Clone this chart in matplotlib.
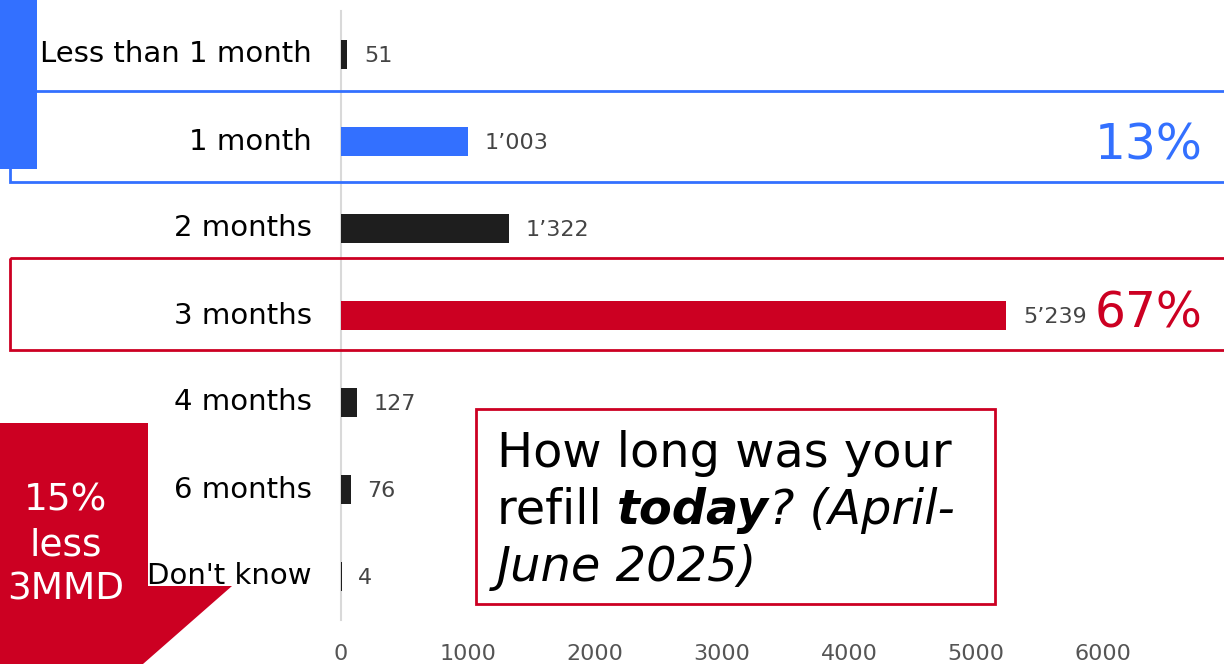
import matplotlib
matplotlib.use("Agg")
import matplotlib.pyplot as plt
from matplotlib.patches import Rectangle, Polygon

# --- data ---
categories = ["Less than 1 month", "1 month", "2 months", "3 months",
              "4 months", "6 months", "Don't know"]
counts = [51, 1003, 1322, 5239, 127, 76, 4]
highlight = {"1 month": "blue", "3 months": "red"}
x_ticks = [0, 1000, 2000, 3000, 4000, 5000, 6000]

DARK = "#1e1e1e"
BLUE = "#3370ff"
RED = "#cc0022"
GREY_TXT = "#444444"
W, H = 1224, 664

plt.rcParams["font.family"] = ["DejaVu Sans"]

fig = plt.figure(figsize=(W / 100, H / 100), dpi=100)

# main bar axes, placed in pixel terms
ax = fig.add_axes([341 / W, (H - 620) / H, (W - 341) / W, 609 / H])
colors = [BLUE if highlight.get(c) == "blue" else RED if highlight.get(c) == "red" else DARK
          for c in categories]
ypos = list(range(len(categories)))
ax.barh(ypos, counts, height=0.34, color=colors, zorder=3)
ax.set_ylim(len(categories) - 0.5, -0.5)
ax.set_xlim(0, (W - 341) / 0.127)
ax.set_yticks(ypos, categories, fontsize=21, color="black", va="center")
ax.set_xticks(x_ticks, [str(t) for t in x_ticks], fontsize=16, color="#555555")
ax.tick_params(axis="y", length=0, pad=21)
ax.tick_params(axis="x", length=0, pad=17)
for s in ("top", "right", "bottom"):
    ax.spines[s].set_visible(False)
ax.spines["left"].set_color("#d9d9d9")
ax.spines["left"].set_linewidth(1.5)

for y, v in zip(ypos, counts):
    lbl = f"{v:,}".replace(",", "\u2019")
    ax.annotate(lbl, xy=(v, y), xytext=(12, -1), textcoords="offset points",
                ha="left", va="center", fontsize=16, color=GREY_TXT)

# overlay axes in pixel coordinates for the annotation shapes
ov = fig.add_axes([0, 0, 1, 1])
ov.set_xlim(0, W)
ov.set_ylim(H, 0)
ov.axis("off")

total = sum(counts)
i1 = categories.index("1 month")
i3 = categories.index("3 months")
pct1 = f"{round(100 * counts[i1] / total)}%"
pct3 = f"{round(100 * counts[i3] / total)}%"

# blue group outline + solid tab
ov.add_patch(Rectangle((10, 91), 1230, 91, fill=False, edgecolor=BLUE, lw=2))
ov.add_patch(Rectangle((0, -5), 37, 174, facecolor=BLUE, edgecolor="none"))
ov.text(1203, 145, pct1, ha="right", va="center", fontsize=35, color=BLUE)

# red group outline
ov.add_patch(Rectangle((10, 258), 1230, 92, fill=False, edgecolor=RED, lw=2))
ov.text(1203, 314, pct3, ha="right", va="center", fontsize=35, color=RED)

# red arrow callout bottom-left
ov.add_patch(Polygon([(0, 423), (148, 423), (148, 586), (232, 586), (143, 664), (0, 664)],
                     closed=True, facecolor=RED, edgecolor="none"))
ov.text(66, 545, "15%\nless\n3MMD", ha="center", va="center", fontsize=27,
        color="white", linespacing=1.32)

# question box
ov.add_patch(Rectangle((476, 409), 519, 195, facecolor="white", edgecolor=RED, lw=2))
qs = 34.5
ov.text(497, 467, "How long was your", fontsize=qs, va="baseline", color="black")
t1 = ov.text(497, 524, "refill ", fontsize=qs, va="baseline", color="black")
t2 = ov.annotate("today", xy=(1, 0), xycoords=t1, fontsize=qs, va="bottom",
                 fontweight="bold", fontstyle="italic", color="black")
ov.annotate("? (April-", xy=(1, 0), xycoords=t2, fontsize=qs, va="bottom",
            fontstyle="italic", color="black")
ov.text(497, 581, "June 2025)", fontsize=qs, va="baseline", fontstyle="italic", color="black")

fig.savefig("out.png", dpi=100)
